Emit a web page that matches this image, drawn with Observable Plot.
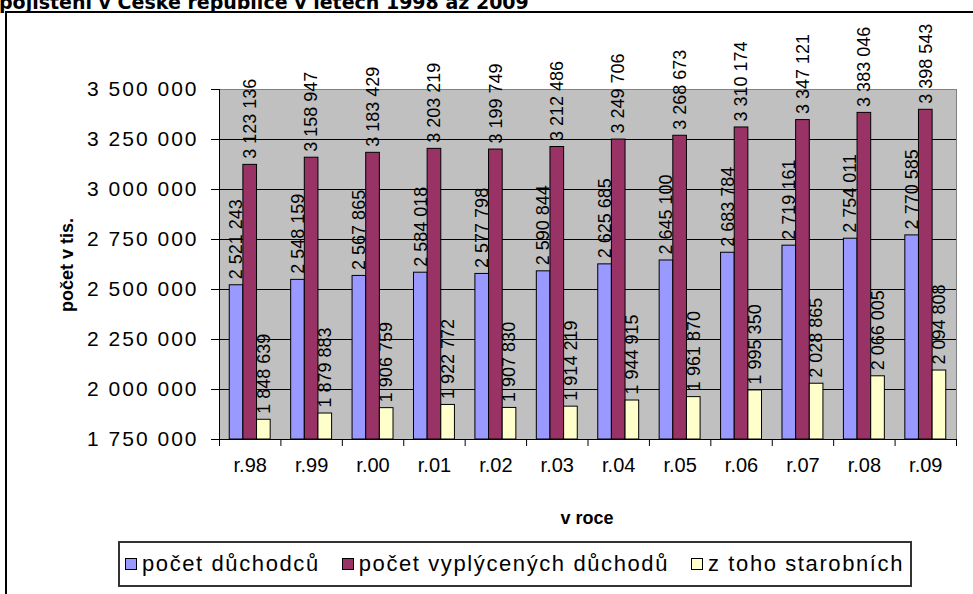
<!DOCTYPE html>
<html>
<head>
<meta charset="utf-8">
<script src="https://cdn.jsdelivr.net/npm/d3@7"></script>
<script src="https://cdn.jsdelivr.net/npm/@observablehq/plot@0.6"></script>
<style>
  body { margin: 0; background: #fff; font-family: "Liberation Sans", Arial, sans-serif; color: #000; }
  #page { position: relative; width: 973px; height: 594px; overflow: hidden; }
  #title { position: absolute; left: -1px; top: -7px; font: bold 19px/19px "DejaVu Sans", Verdana, sans-serif; white-space: nowrap; }
  #box { position: absolute; left: 5px; top: 11px; width: 1200px; height: 800px; border: 2px solid #000; box-sizing: border-box; }
  #chart { position: absolute; left: 0; top: 0; }
  #ytitle { position: absolute; left: 67px; top: 265px; transform: translate(-50%, -50%) rotate(-90deg); font-weight: bold; font-size: 18px; white-space: nowrap; }
  #xtitle { position: absolute; left: 587px; top: 518px; transform: translate(-50%, -50%); font-weight: bold; font-size: 18px; white-space: nowrap; }
  #legend { position: absolute; left: 118px; top: 541px; width: 794px; height: 46px; box-sizing: border-box; border: 2px solid #333; font-size: 22px; letter-spacing: 1.6px; display: flex; align-items: center; justify-content: space-between; padding: 0 6px 0 5px; }
  .item { display: flex; align-items: center; gap: 5px; white-space: nowrap; }
  .sw { width: 10px; height: 10px; border: 1px solid #000; flex: none; }
  #chart svg g[aria-label="y-axis tick label"] text { letter-spacing: 2px; }
</style>
</head>
<body>
<div id="page">
  <div id="box"></div>
  <div id="chart"></div>
  <div id="title">pojištění v České republice v letech 1998 až 2009</div>
  <div id="ytitle">počet v tis.</div>
  <div id="xtitle">v roce</div>
  <div id="legend"></div>
</div>
<script>
// Years on the category axis
const years = ["r.98", "r.99", "r.00", "r.01", "r.02", "r.03", "r.04", "r.05", "r.06", "r.07", "r.08", "r.09"];

// Series values, one per year
const pocetDuchodcu = [2521243, 2548159, 2567865, 2584018, 2577798, 2590844, 2625685, 2645100, 2683784, 2719161, 2754011, 2770585];
const pocetVyplacenychDuchodu = [3123136, 3158947, 3183429, 3203219, 3199749, 3212486, 3249706, 3268673, 3310174, 3347121, 3383046, 3398543];
const zTohoStarobnich = [1848639, 1879883, 1906759, 1922772, 1907830, 1914219, 1944915, 1961870, 1995350, 2028865, 2066005, 2094808];

const seriesNames = ["počet důchodců", "počet vyplýcených důchodů", "z toho starobních"];
const seriesColors = ["#9999ff", "#993366", "#ffffcc"];

// Value-axis tick values
const yTicks = [1750000, 2000000, 2250000, 2500000, 2750000, 3000000, 3250000, 3500000];

const seriesValues = [pocetDuchodcu, pocetVyplacenychDuchodu, zTohoStarobnich];

// Thousands separated by spaces: 3 123 136
const fmt = d3.formatLocale({thousands: "\u00a0", grouping: [3], decimal: ",", currency: ["", ""]}).format(",d");

// Clustered layout: three adjacent bars per year, gap between clusters 150 % of a bar
const barShare = 1 / 4.5;
const rows = years.flatMap((year, i) => seriesNames.map((name, k) => ({
  year, name,
  value: seriesValues[k][i],
  x1: i + 0.75 * barShare + k * barShare,
  x2: i + 0.75 * barShare + (k + 1) * barShare
})));

const chart = Plot.plot({
  width: 973,
  height: 594,
  marginLeft: 219,
  marginRight: 17,
  marginTop: 89,
  marginBottom: 155,
  x: {domain: [0, years.length], axis: null},
  y: {domain: [yTicks[0], yTicks[yTicks.length - 1]], axis: null},
  color: {domain: seriesNames, range: seriesColors},
  style: {fontFamily: "'Liberation Sans', Arial, sans-serif", fontSize: "20px", color: "#000", background: "transparent", overflow: "visible"},
  marks: [
    Plot.frame({fill: "#c0c0c0", stroke: "#808080"}),
    Plot.ruleY(yTicks.slice(0, -1), {stroke: "#000"}),
    Plot.ruleX([0], {stroke: "#000"}),
    Plot.axisY(yTicks, {anchor: "left", tickSize: 8, tickPadding: 13, tickFormat: fmt, label: null, stroke: "#000", fontSize: 21, ariaLabel: "y-axis"}),
    Plot.axisX(d3.range(years.length + 1), {tickSize: 7, tickFormat: () => "", label: null, stroke: "#000"}),
    Plot.axisX(years.map((_, i) => i + 0.5), {tickSize: 0, tickPadding: 18, tickFormat: v => years[Math.floor(v)], label: null}),
    Plot.rectY(rows, {x1: "x1", x2: "x2", y1: yTicks[0], y2: "value", fill: "name", stroke: "#000", strokeWidth: 1}),
    Plot.text(rows, {x: d => (d.x1 + d.x2) / 2, y: "value", text: d => fmt(d.value), rotate: -90, textAnchor: "start", dy: -6, fontSize: 18, fill: "#000"})
  ]
});
document.getElementById("chart").append(chart);

// Legend: swatch + name for each series
const legend = document.getElementById("legend");
seriesNames.forEach((name, k) => {
  const item = document.createElement("div");
  item.className = "item";
  const sw = document.createElement("span");
  sw.className = "sw";
  sw.style.background = seriesColors[k];
  const label = document.createElement("span");
  label.textContent = name;
  item.append(sw, label);
  legend.append(item);
});
</script>
</body>
</html>
